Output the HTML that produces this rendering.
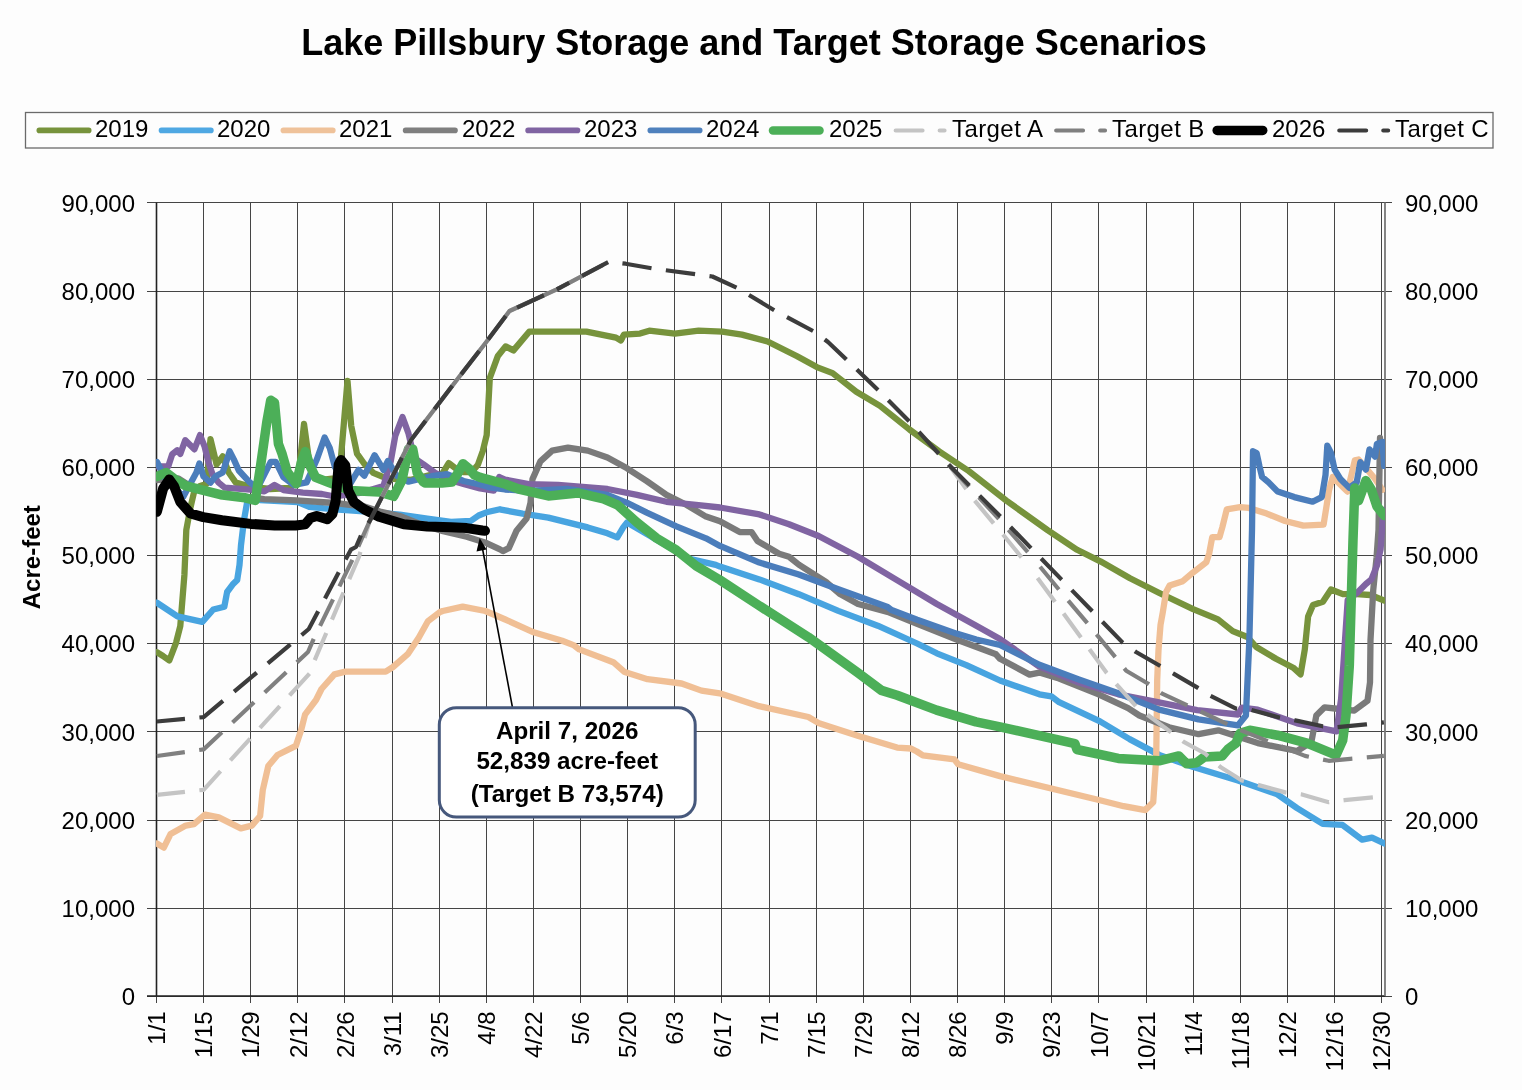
<!DOCTYPE html>
<html><head><meta charset="utf-8"><style>
html,body{margin:0;padding:0;background:#fdfdfd;width:1522px;height:1090px;overflow:hidden;position:relative}
svg text{font-family:"Liberation Sans",sans-serif}
svg{will-change:transform}
</style></head><body>
<svg width="1522" height="1090" viewBox="0 0 1522 1090" style="position:absolute;left:0;top:0"><text x="754" y="54.6" text-anchor="middle" font-family="Liberation Sans" font-weight="bold" font-size="36" fill="#000">Lake Pillsbury Storage and Target Storage Scenarios</text><rect x="25.5" y="112.5" width="1467.5" height="35.5" fill="#fdfdfd" stroke="#6a6a6a" stroke-width="1.3"/><path d="M156.50 202.5V1003 M203.50 202.5V1003 M250.50 202.5V1003 M297.50 202.5V1003 M344.50 202.5V1003 M392.50 202.5V1003 M439.50 202.5V1003 M486.50 202.5V1003 M533.50 202.5V1003 M580.50 202.5V1003 M627.50 202.5V1003 M674.50 202.5V1003 M721.50 202.5V1003 M769.50 202.5V1003 M816.50 202.5V1003 M863.50 202.5V1003 M910.50 202.5V1003 M957.50 202.5V1003 M1004.50 202.5V1003 M1051.50 202.5V1003 M1098.50 202.5V1003 M1146.50 202.5V1003 M1193.50 202.5V1003 M1240.50 202.5V1003 M1287.50 202.5V1003 M1334.50 202.5V1003 M1381.50 202.5V1003 M147 996.50H1392 M147 908.50H1392 M147 820.50H1392 M147 731.50H1392 M147 643.50H1392 M147 555.50H1392 M147 467.50H1392 M147 379.50H1392 M147 291.50H1392 M147 202.50H1392" stroke="#454545" stroke-width="1" fill="none"/><path d="M156.5 202.5V996 M147 996H1384.99" stroke="#222" stroke-width="1.6" fill="none"/><path d="M1384.99 202.5V996" stroke="#777" stroke-width="1.8" fill="none"/><text x="135" y="1005.0" text-anchor="end" font-family="Liberation Sans" font-size="24" fill="#000">0</text><text x="1405" y="1005.0" text-anchor="start" font-family="Liberation Sans" font-size="24" fill="#000">0</text><text x="135" y="916.8" text-anchor="end" font-family="Liberation Sans" font-size="24" fill="#000">10,000</text><text x="1405" y="916.8" text-anchor="start" font-family="Liberation Sans" font-size="24" fill="#000">10,000</text><text x="135" y="828.7" text-anchor="end" font-family="Liberation Sans" font-size="24" fill="#000">20,000</text><text x="1405" y="828.7" text-anchor="start" font-family="Liberation Sans" font-size="24" fill="#000">20,000</text><text x="135" y="740.5" text-anchor="end" font-family="Liberation Sans" font-size="24" fill="#000">30,000</text><text x="1405" y="740.5" text-anchor="start" font-family="Liberation Sans" font-size="24" fill="#000">30,000</text><text x="135" y="652.3" text-anchor="end" font-family="Liberation Sans" font-size="24" fill="#000">40,000</text><text x="1405" y="652.3" text-anchor="start" font-family="Liberation Sans" font-size="24" fill="#000">40,000</text><text x="135" y="564.1" text-anchor="end" font-family="Liberation Sans" font-size="24" fill="#000">50,000</text><text x="1405" y="564.1" text-anchor="start" font-family="Liberation Sans" font-size="24" fill="#000">50,000</text><text x="135" y="476.0" text-anchor="end" font-family="Liberation Sans" font-size="24" fill="#000">60,000</text><text x="1405" y="476.0" text-anchor="start" font-family="Liberation Sans" font-size="24" fill="#000">60,000</text><text x="135" y="387.8" text-anchor="end" font-family="Liberation Sans" font-size="24" fill="#000">70,000</text><text x="1405" y="387.8" text-anchor="start" font-family="Liberation Sans" font-size="24" fill="#000">70,000</text><text x="135" y="299.6" text-anchor="end" font-family="Liberation Sans" font-size="24" fill="#000">80,000</text><text x="1405" y="299.6" text-anchor="start" font-family="Liberation Sans" font-size="24" fill="#000">80,000</text><text x="135" y="211.5" text-anchor="end" font-family="Liberation Sans" font-size="24" fill="#000">90,000</text><text x="1405" y="211.5" text-anchor="start" font-family="Liberation Sans" font-size="24" fill="#000">90,000</text><text transform="translate(39.6,557.2) rotate(-90)" text-anchor="middle" font-family="Liberation Sans" font-weight="bold" font-size="24" fill="#000">Acre-feet</text><text transform="translate(165.1,1011.3) rotate(-90)" text-anchor="end" font-family="Liberation Sans" font-size="24" fill="#000">1/1</text><text transform="translate(212.2,1011.3) rotate(-90)" text-anchor="end" font-family="Liberation Sans" font-size="24" fill="#000">1/15</text><text transform="translate(259.3,1011.3) rotate(-90)" text-anchor="end" font-family="Liberation Sans" font-size="24" fill="#000">1/29</text><text transform="translate(306.5,1011.3) rotate(-90)" text-anchor="end" font-family="Liberation Sans" font-size="24" fill="#000">2/12</text><text transform="translate(353.6,1011.3) rotate(-90)" text-anchor="end" font-family="Liberation Sans" font-size="24" fill="#000">2/26</text><text transform="translate(400.7,1011.3) rotate(-90)" text-anchor="end" font-family="Liberation Sans" font-size="24" fill="#000">3/11</text><text transform="translate(447.8,1011.3) rotate(-90)" text-anchor="end" font-family="Liberation Sans" font-size="24" fill="#000">3/25</text><text transform="translate(494.9,1011.3) rotate(-90)" text-anchor="end" font-family="Liberation Sans" font-size="24" fill="#000">4/8</text><text transform="translate(542.1,1011.3) rotate(-90)" text-anchor="end" font-family="Liberation Sans" font-size="24" fill="#000">4/22</text><text transform="translate(589.2,1011.3) rotate(-90)" text-anchor="end" font-family="Liberation Sans" font-size="24" fill="#000">5/6</text><text transform="translate(636.3,1011.3) rotate(-90)" text-anchor="end" font-family="Liberation Sans" font-size="24" fill="#000">5/20</text><text transform="translate(683.4,1011.3) rotate(-90)" text-anchor="end" font-family="Liberation Sans" font-size="24" fill="#000">6/3</text><text transform="translate(730.5,1011.3) rotate(-90)" text-anchor="end" font-family="Liberation Sans" font-size="24" fill="#000">6/17</text><text transform="translate(777.7,1011.3) rotate(-90)" text-anchor="end" font-family="Liberation Sans" font-size="24" fill="#000">7/1</text><text transform="translate(824.8,1011.3) rotate(-90)" text-anchor="end" font-family="Liberation Sans" font-size="24" fill="#000">7/15</text><text transform="translate(871.9,1011.3) rotate(-90)" text-anchor="end" font-family="Liberation Sans" font-size="24" fill="#000">7/29</text><text transform="translate(919.0,1011.3) rotate(-90)" text-anchor="end" font-family="Liberation Sans" font-size="24" fill="#000">8/12</text><text transform="translate(966.1,1011.3) rotate(-90)" text-anchor="end" font-family="Liberation Sans" font-size="24" fill="#000">8/26</text><text transform="translate(1013.3,1011.3) rotate(-90)" text-anchor="end" font-family="Liberation Sans" font-size="24" fill="#000">9/9</text><text transform="translate(1060.4,1011.3) rotate(-90)" text-anchor="end" font-family="Liberation Sans" font-size="24" fill="#000">9/23</text><text transform="translate(1107.5,1011.3) rotate(-90)" text-anchor="end" font-family="Liberation Sans" font-size="24" fill="#000">10/7</text><text transform="translate(1154.6,1011.3) rotate(-90)" text-anchor="end" font-family="Liberation Sans" font-size="24" fill="#000">10/21</text><text transform="translate(1201.7,1011.3) rotate(-90)" text-anchor="end" font-family="Liberation Sans" font-size="24" fill="#000">11/4</text><text transform="translate(1248.9,1011.3) rotate(-90)" text-anchor="end" font-family="Liberation Sans" font-size="24" fill="#000">11/18</text><text transform="translate(1296.0,1011.3) rotate(-90)" text-anchor="end" font-family="Liberation Sans" font-size="24" fill="#000">12/2</text><text transform="translate(1343.1,1011.3) rotate(-90)" text-anchor="end" font-family="Liberation Sans" font-size="24" fill="#000">12/16</text><text transform="translate(1390.2,1011.3) rotate(-90)" text-anchor="end" font-family="Liberation Sans" font-size="24" fill="#000">12/30</text><g clip-path="url(#plotclip)"><clipPath id="plotclip"><rect x="155.9" y="195" width="1229.0857142857142" height="805"/></clipPath><path d="M156.9 652.2 L163.0 656.0 L169.3 660.5 L176.1 642.6 L180.3 626.0 L184.4 575.0 L186.3 530.0 L190.4 507.8 L194.4 490.6 L200.0 486.0 L206.5 484.0 L210.5 439.2 L216.6 464.4 L222.7 456.3 L228.7 472.5 L235.8 482.6 L250.0 486.6 L270.0 489.0 L290.0 488.0 L298.0 480.0 L304.0 424.0 L309.0 460.0 L314.3 477.3 L322.0 479.9 L336.0 478.0 L340.9 458.1 L347.5 381.0 L351.2 425.8 L357.0 453.7 L364.4 464.0 L373.2 472.8 L386.6 478.3 L410.0 480.0 L430.0 475.0 L441.5 475.0 L448.7 463.1 L455.8 468.6 L463.0 472.0 L471.8 472.0 L477.9 464.8 L482.8 451.0 L486.7 435.0 L489.8 378.0 L497.7 356.3 L505.6 346.4 L513.5 350.4 L529.2 331.7 L556.8 331.7 L586.4 331.7 L616.0 337.6 L620.9 340.5 L623.9 334.6 L640.0 333.6 L649.3 330.7 L674.9 333.6 L698.6 330.7 L722.2 331.7 L741.9 334.6 L767.6 341.5 L797.1 356.3 L816.8 367.1 L832.6 373.1 L856.3 391.8 L880.0 405.9 L909.6 429.6 L939.1 451.3 L968.7 471.0 L1006.2 500.5 L1047.6 530.1 L1077.1 549.8 L1100.8 561.6 L1130.0 578.3 L1159.3 593.0 L1193.1 609.1 L1218.0 619.4 L1232.7 631.1 L1247.4 637.0 L1256.3 647.0 L1276.0 658.8 L1293.2 667.7 L1300.6 674.3 L1304.8 649.5 L1308.1 616.5 L1313.0 605.0 L1322.9 601.7 L1331.0 589.5 L1342.9 594.1 L1356.7 594.1 L1370.5 595.0 L1384.2 600.6" stroke="#77933c" stroke-width="6.3" fill="none" stroke-linejoin="round" stroke-linecap="round"/><path d="M156.9 602.7 L177.5 616.4 L202.3 621.9 L213.3 609.5 L224.3 606.8 L227.1 592.0 L232.6 584.6 L237.2 580.0 L239.5 565.0 L241.0 545.0 L244.0 520.0 L247.3 501.3 L252.0 498.0 L260.0 500.0 L297.8 502.0 L309.2 506.8 L334.9 509.4 L360.0 511.0 L399.7 514.7 L427.3 518.6 L451.0 521.8 L470.7 521.0 L478.6 515.5 L486.5 512.3 L500.0 509.2 L501.0 509.7 L522.6 513.6 L548.3 517.6 L587.7 527.4 L607.4 533.3 L617.3 537.3 L623.2 527.4 L627.1 522.5 L640.0 530.0 L676.0 551.0 L686.3 558.0 L715.8 564.9 L720.0 566.6 L759.4 579.4 L798.8 594.2 L838.3 610.9 L877.7 625.7 L917.1 643.5 L936.8 653.3 L966.4 665.2 L1000.0 680.5 L1039.4 694.3 L1051.3 696.3 L1059.1 702.2 L1100.0 721.4 L1129.6 739.1 L1159.1 754.9 L1192.6 766.7 L1238.0 780.5 L1277.4 794.3 L1297.1 808.1 L1322.7 823.9 L1342.5 824.9 L1362.2 839.7 L1372.0 837.7 L1384.8 843.6" stroke="#48a4e0" stroke-width="6.3" fill="none" stroke-linejoin="round" stroke-linecap="round"/><path d="M156.9 843.5 L163.8 847.6 L170.6 833.9 L185.8 825.6 L194.0 824.2 L205.0 814.6 L218.8 817.4 L240.8 828.4 L251.8 825.6 L260.1 816.0 L262.8 789.9 L268.3 766.0 L277.5 755.0 L295.8 745.9 L301.3 729.4 L305.0 714.7 L316.0 700.0 L321.5 689.0 L334.4 674.4 L345.4 671.6 L385.7 671.6 L393.0 667.0 L407.7 654.2 L418.7 637.7 L427.9 621.2 L440.0 612.0 L442.7 611.0 L462.7 606.7 L485.4 611.0 L505.3 619.5 L533.7 632.3 L562.2 640.8 L573.5 645.1 L579.2 649.4 L613.3 662.2 L624.7 672.1 L647.5 679.2 L681.6 683.5 L701.5 690.6 L719.7 693.3 L759.1 706.2 L808.4 717.0 L818.3 722.9 L857.7 735.7 L897.1 747.6 L910.9 748.5 L916.8 751.5 L922.8 755.4 L954.3 759.4 L958.2 764.3 L1000.0 776.1 L1100.0 800.2 L1123.7 806.2 L1145.3 810.1 L1153.2 802.2 L1156.2 758.8 L1157.2 680.0 L1158.5 650.0 L1160.5 625.0 L1162.8 612.2 L1166.0 592.3 L1169.6 585.6 L1182.8 581.2 L1193.1 572.4 L1206.3 562.2 L1209.2 553.4 L1212.2 537.2 L1219.5 537.2 L1222.4 527.0 L1226.8 509.3 L1240.0 507.1 L1248.9 507.9 L1266.7 513.6 L1285.1 521.0 L1303.4 525.6 L1323.6 524.6 L1329.1 489.8 L1332.8 476.9 L1343.8 487.9 L1347.5 491.6 L1354.8 460.4 L1358.5 459.5 L1364.0 465.9 L1375.0 478.7 L1382.4 489.8" stroke="#f0bf95" stroke-width="6.3" fill="none" stroke-linejoin="round" stroke-linecap="round"/><path d="M157.1 480.0 L178.3 478.5 L190.0 486.0 L210.0 492.0 L240.0 496.0 L264.3 499.1 L296.3 500.4 L334.9 503.0 L364.4 506.6 L380.0 511.5 L399.7 516.0 L420.0 524.0 L443.1 531.3 L466.7 536.8 L486.5 543.1 L500.0 549.4 L502.9 551.1 L508.8 548.1 L516.7 530.4 L526.6 518.6 L530.5 502.8 L532.5 479.1 L540.4 461.4 L552.2 450.6 L568.0 447.6 L587.7 450.6 L607.4 457.5 L627.1 468.3 L646.8 481.1 L666.5 494.9 L686.3 504.8 L706.0 516.6 L720.0 521.3 L739.7 532.1 L751.5 532.1 L757.5 541.0 L779.1 553.8 L789.0 556.7 L798.8 564.6 L826.0 582.0 L840.0 594.0 L858.0 604.0 L887.6 611.9 L917.1 623.8 L956.5 639.5 L996.0 654.3 L1000.0 658.8 L1029.6 674.6 L1039.4 672.6 L1059.1 678.6 L1098.6 694.3 L1128.1 708.1 L1139.4 715.5 L1169.0 727.3 L1198.6 734.2 L1218.3 730.3 L1257.7 743.1 L1297.1 751.0 L1311.4 742.0 L1316.3 715.6 L1324.6 707.3 L1339.4 709.0 L1354.3 710.6 L1367.5 700.7 L1370.0 682.5 L1370.5 640.0 L1373.2 590.5 L1376.5 558.0 L1378.5 530.0 L1380.0 438.0" stroke="#7a7a7a" stroke-width="6.3" fill="none" stroke-linejoin="round" stroke-linecap="round"/><path d="M157.6 466.4 L168.2 466.4 L172.2 454.3 L177.2 450.3 L180.3 453.8 L185.3 440.2 L194.4 449.3 L200.0 435.1 L204.5 446.2 L208.5 462.4 L212.6 474.5 L218.6 482.6 L224.7 487.6 L250.0 489.6 L264.3 491.4 L274.5 485.0 L283.5 490.1 L302.8 492.7 L322.0 494.0 L334.9 496.5 L360.0 493.0 L383.5 486.0 L390.8 461.0 L395.2 436.1 L402.5 417.0 L408.4 433.1 L414.3 458.1 L423.1 464.0 L435.0 472.8 L450.0 480.0 L463.5 484.0 L480.0 488.5 L493.8 490.7 L499.3 477.0 L505.0 479.6 L528.6 484.1 L558.1 485.0 L607.4 489.0 L637.0 494.9 L666.5 501.8 L696.1 504.8 L720.0 507.5 L759.4 514.4 L789.0 524.2 L818.6 536.0 L858.0 556.7 L897.4 580.4 L936.8 604.0 L976.3 625.7 L1000.0 639.1 L1039.4 666.7 L1078.8 682.5 L1118.3 694.3 L1157.7 702.2 L1197.1 710.1 L1238.0 714.5 L1241.9 707.6 L1257.7 709.6 L1297.1 723.4 L1336.5 731.3 L1341.1 699.0 L1344.4 649.5 L1347.7 600.0 L1356.7 593.2 L1365.9 584.0 L1371.4 579.4 L1376.9 565.7 L1380.6 549.2 L1383.3 510.0" stroke="#8064a2" stroke-width="6.3" fill="none" stroke-linejoin="round" stroke-linecap="round"/><path d="M157.0 462.0 L165.0 478.0 L175.0 488.0 L183.3 496.7 L196.4 472.5 L199.4 463.4 L203.5 476.5 L210.5 482.6 L216.0 476.0 L222.7 472.5 L229.7 451.3 L233.8 459.4 L238.8 470.5 L250.0 482.6 L257.8 487.6 L270.7 461.9 L275.8 461.9 L283.5 477.3 L293.8 485.0 L306.6 482.4 L316.9 459.3 L324.6 437.5 L329.7 447.8 L334.9 467.0 L342.0 478.0 L349.7 484.5 L358.5 469.9 L364.4 475.7 L374.6 455.2 L383.5 469.9 L387.9 461.0 L396.7 475.7 L408.4 481.6 L433.3 475.8 L447.0 474.1 L463.5 481.0 L480.0 484.5 L491.0 487.6 L505.0 489.5 L528.6 491.0 L568.0 489.0 L607.4 494.9 L627.1 502.8 L646.8 512.6 L676.4 526.4 L706.0 538.3 L720.0 545.9 L759.4 562.6 L798.8 574.5 L838.3 589.3 L887.6 607.0 L891.5 610.0 L917.1 619.8 L956.5 633.6 L976.3 639.5 L1000.0 645.0 L1039.4 664.8 L1078.8 679.5 L1118.3 693.3 L1159.1 709.6 L1198.6 719.4 L1238.0 725.3 L1245.9 715.5 L1249.4 639.1 L1252.0 530.2 L1253.0 451.2 L1256.6 453.0 L1259.4 465.9 L1262.1 476.9 L1268.6 482.4 L1277.7 491.6 L1294.3 497.1 L1312.6 501.7 L1321.8 497.1 L1325.5 475.1 L1327.3 445.7 L1331.0 453.0 L1334.6 469.6 L1340.2 478.7 L1349.3 487.9 L1356.7 482.4 L1360.3 462.2 L1365.9 469.6 L1369.5 449.4 L1375.0 456.7 L1376.9 443.9 L1382.4 442.0 L1384.2 465.9" stroke="#4b7dbb" stroke-width="6.3" fill="none" stroke-linejoin="round" stroke-linecap="round"/><path d="M157.1 476.5 L166.1 472.5 L175.2 479.5 L185.3 485.6 L200.5 489.6 L220.6 494.7 L245.0 497.8 L255.3 500.4 L260.4 467.0 L266.8 422.1 L270.7 400.3 L274.5 402.8 L278.4 443.9 L282.2 454.2 L287.4 472.2 L296.3 483.7 L301.5 461.9 L305.3 451.6 L310.5 467.0 L315.6 477.3 L328.4 482.4 L349.7 490.4 L379.1 491.9 L393.7 496.3 L402.0 480.0 L408.4 449.3 L412.8 449.3 L417.2 472.8 L423.1 481.6 L425.0 483.0 L441.8 483.1 L452.0 482.0 L458.0 473.0 L463.0 463.7 L469.0 468.6 L474.6 475.2 L480.0 477.4 L505.0 484.0 L518.7 489.0 L548.3 495.9 L577.8 492.9 L603.5 498.8 L617.3 504.8 L637.0 522.5 L656.7 538.3 L676.4 550.1 L696.1 565.9 L720.0 580.0 L759.1 605.6 L808.4 637.2 L857.7 672.6 L881.4 690.4 L897.1 695.3 L936.6 710.1 L976.0 721.9 L1000.0 726.9 L1039.4 735.7 L1074.9 743.6 L1076.9 749.5 L1118.3 758.4 L1159.1 760.8 L1178.8 755.9 L1186.7 763.8 L1196.6 762.8 L1204.5 756.9 L1222.2 755.9 L1228.1 749.0 L1236.0 743.1 L1240.0 733.2 L1249.8 730.3 L1277.4 735.2 L1307.0 743.1 L1336.1 755.2 L1342.7 740.3 L1346.0 715.6 L1349.3 666.0 L1353.0 540.0 L1354.8 487.9 L1358.5 500.8 L1365.9 480.6 L1371.4 489.8 L1376.9 506.3 L1384.2 515.5" stroke="#4caf58" stroke-width="9.5" fill="none" stroke-linejoin="round" stroke-linecap="round"/><path d="M156.9 794.9 L203.6 789.8 L310.0 673.0 L314.6 660.3 L343.5 592.6 L359.1 556.3 L369.7 521.0" stroke="#c4c4c4" stroke-width="4.2" fill="none" stroke-linejoin="round" stroke-dasharray="29.5 14.5" stroke-dashoffset="1.30"/><path d="M369.7 521.0 L411.0 440.0 L458.3 378.0 L485.9 342.5 L509.5 311.0 L556.8 289.3 L603.0 265.0" stroke="#c4c4c4" stroke-width="4.2" fill="none" stroke-linejoin="round"/><path d="M949.0 465.0 L974.6 500.5 L1004.2 536.0 L1029.8 567.6" stroke="#c4c4c4" stroke-width="4.2" fill="none" stroke-linejoin="round" stroke-dasharray="29.5 14.5" stroke-dashoffset="0.00"/><path d="M1029.8 567.6 L1051.5 597.1 L1080.8 637.2 L1106.4 672.6 L1118.3 686.4 L1136.0 706.2 L1167.6 729.8 L1183.3 741.6 L1205.0 753.5 L1220.8 767.3 L1241.9 780.5 L1285.3 792.4 L1301.1 794.3 L1328.7 802.2 L1344.4 800.2 L1374.0 797.3 L1383.9 796.5" stroke="#c4c4c4" stroke-width="4.2" fill="none" stroke-linejoin="round" stroke-dasharray="29.5 14.5" stroke-dashoffset="30.96"/><path d="M156.9 756.0 L203.6 749.4 L308.0 652.0 L313.7 638.9 L352.5 559.6 L369.7 521.0" stroke="#808080" stroke-width="4.2" fill="none" stroke-linejoin="round" stroke-dasharray="29.5 14.5" stroke-dashoffset="1.30"/><path d="M369.7 521.0 L411.0 440.0 L458.3 378.0 L485.9 342.5 L509.5 311.0 L556.8 289.3 L603.0 265.0" stroke="#808080" stroke-width="4.2" fill="none" stroke-linejoin="round"/><path d="M949.0 465.0 L998.3 518.3 L1031.8 556.7" stroke="#808080" stroke-width="4.2" fill="none" stroke-linejoin="round" stroke-dasharray="29.5 14.5" stroke-dashoffset="0.00"/><path d="M1031.8 556.7 L1059.4 590.2 L1086.7 622.4 L1114.3 655.9 L1126.2 670.7 L1147.8 683.5 L1161.6 693.3 L1240.0 730.0 L1305.0 755.9 L1328.7 760.8 L1350.3 758.8 L1383.9 755.9" stroke="#808080" stroke-width="4.2" fill="none" stroke-linejoin="round" stroke-dasharray="29.5 14.5" stroke-dashoffset="30.96"/><path d="M156.9 511.8 L163.1 488.6 L169.2 479.5 L174.2 486.5 L180.3 502.0 L190.5 513.5 L203.3 517.1 L222.0 520.2 L250.6 523.9 L274.6 525.5 L295.6 525.5 L305.1 524.4 L310.4 518.1 L316.7 516.0 L327.2 519.2 L332.4 513.9 L335.6 501.3 L338.7 464.5 L341.0 460.0 L345.3 465.4 L348.2 490.4 L354.1 502.2 L364.4 509.5 L379.1 516.8 L403.7 524.2 L427.3 526.5 L451.0 527.3 L466.7 528.1 L482.5 530.5 L485.0 530.8" stroke="#000000" stroke-width="10" fill="none" stroke-linejoin="round" stroke-linecap="round"/><path d="M156.9 721.5 L203.6 717.1 L308.8 629.0 L338.5 572.8 L350.9 549.7 L356.0 547.0 L362.0 533.0 L369.7 521.0 L411.0 440.0 L458.3 378.0 L485.9 342.5 L509.5 311.0 L556.8 289.3" stroke="#3c3c3c" stroke-width="4.2" fill="none" stroke-linejoin="round" stroke-dasharray="29.5 14.5" stroke-dashoffset="1.30"/><path d="M556.8 289.3 L609.1 261.7 L625.6 263.7 L653.2 268.6 L712.4 276.5 L738.0 288.3 L775.4 311.0 L814.9 332.0 L828.0 342.0 L848.0 361.0 L880.0 392.0 L909.6 421.7 L949.0 465.0 L1000.2 516.3 L1061.4 579.4 L1122.2 642.1 L1136.0 652.0 L1173.5 673.6 L1197.1 687.4 L1210.4 695.8 L1236.0 708.6 L1249.8 709.6 L1279.4 717.5 L1295.2 720.4 L1322.7 726.3 L1336.5 727.3 L1366.1 724.4 L1383.9 722.4" stroke="#3c3c3c" stroke-width="4.2" fill="none" stroke-linejoin="round" stroke-dasharray="29.5 14.5" stroke-dashoffset="15.44"/></g><path d="M39.3 130.4H88.7" stroke="#77933c" stroke-width="5.6" stroke-linecap="round" fill="none"/><text x="95" y="137.4" font-family="Liberation Sans" font-size="24" fill="#000">2019</text><path d="M161.5 130.4H210.9" stroke="#4fa8e3" stroke-width="5.6" stroke-linecap="round" fill="none"/><text x="217" y="137.4" font-family="Liberation Sans" font-size="24" fill="#000">2020</text><path d="M283.4 130.4H332.8" stroke="#efc29a" stroke-width="5.6" stroke-linecap="round" fill="none"/><text x="339" y="137.4" font-family="Liberation Sans" font-size="24" fill="#000">2021</text><path d="M405.6 130.4H455.0" stroke="#7f7f7f" stroke-width="5.6" stroke-linecap="round" fill="none"/><text x="462" y="137.4" font-family="Liberation Sans" font-size="24" fill="#000">2022</text><path d="M528.1 130.4H577.5" stroke="#8064a2" stroke-width="5.6" stroke-linecap="round" fill="none"/><text x="584" y="137.4" font-family="Liberation Sans" font-size="24" fill="#000">2023</text><path d="M650.3 130.4H699.7" stroke="#4f81bd" stroke-width="5.6" stroke-linecap="round" fill="none"/><text x="706" y="137.4" font-family="Liberation Sans" font-size="24" fill="#000">2024</text><path d="M773.0 130.4H819.5" stroke="#4caf58" stroke-width="8.5" stroke-linecap="round" fill="none"/><text x="829" y="137.4" font-family="Liberation Sans" font-size="24" fill="#000">2025</text><path d="M895.6 130.4H922.6 M939.6 130.4H944.6" stroke="#c4c4c4" stroke-width="4" stroke-linecap="round" fill="none"/><text x="952" y="137.4" font-family="Liberation Sans" font-size="24" fill="#000" letter-spacing="0.42">Target A</text><path d="M1056.1 130.4H1083.1 M1100.1 130.4H1105.1" stroke="#808080" stroke-width="4" stroke-linecap="round" fill="none"/><text x="1112" y="137.4" font-family="Liberation Sans" font-size="24" fill="#000" letter-spacing="0.42">Target B</text><path d="M1217.2 130.4H1262.7" stroke="#000000" stroke-width="9.5" stroke-linecap="round" fill="none"/><text x="1272" y="137.4" font-family="Liberation Sans" font-size="24" fill="#000">2026</text><path d="M1339.2 130.4H1366.2 M1383.2 130.4H1388.2" stroke="#3c3c3c" stroke-width="4" stroke-linecap="round" fill="none"/><text x="1395" y="137.4" font-family="Liberation Sans" font-size="24" fill="#000" letter-spacing="0.42">Target C</text><path d="M512.4 707 L482 546" stroke="#000" stroke-width="1.6" fill="none"/><path d="M479.7 538 L476.5 551.5 L486.5 549.5 Z" fill="#000"/><rect x="439.3" y="707.7" width="255.9" height="109.4" rx="17" ry="17" fill="#fff" stroke="#46587c" stroke-width="3"/><text x="567.2" y="738.7" text-anchor="middle" font-family="Liberation Sans" font-weight="bold" font-size="24.2" fill="#000">April 7, 2026</text><text x="567.2" y="768.6" text-anchor="middle" font-family="Liberation Sans" font-weight="bold" font-size="24.2" fill="#000">52,839 acre-feet</text><text x="567.2" y="801.5" text-anchor="middle" font-family="Liberation Sans" font-weight="bold" font-size="24.2" fill="#000">(Target B 73,574)</text></svg>
</body></html>
